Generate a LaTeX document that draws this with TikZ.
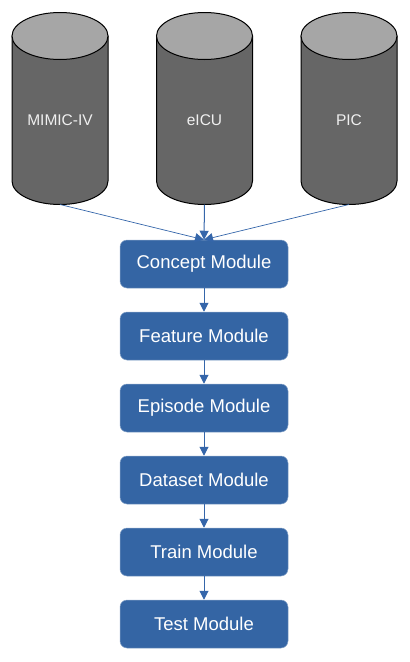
\documentclass[tikz,border=0pt]{standalone}
\usepackage{fontspec}
\setmainfont{Liberation Sans}
\usetikzlibrary{arrows.meta}
\definecolor{boxblue}{HTML}{3465A4}
\definecolor{arrowblue}{HTML}{3566AA}
\definecolor{cylbody}{HTML}{666666}
\definecolor{cyltop}{HTML}{A6A6A6}
\definecolor{cyltext}{HTML}{F0F0F0}
\tikzset{
  modbox/.style={draw=boxblue!60!white, line width=0.5pt, fill=boxblue, rounded corners=7pt,
    minimum width=168pt, minimum height=48pt, inner sep=0pt, text=white,
    font=\fontsize{18.5}{21}\selectfont},
  cyltext/.style={text=cyltext, font=\fontsize{15.5}{18}\selectfont, inner sep=0pt},
  cylline/.style={draw=black, line width=1pt},
  flow/.style={draw=arrowblue, line width=1pt, -{Triangle[width=9pt,length=9pt]}},
  thinflow/.style={draw=arrowblue, line width=0.7pt, -{Triangle[width=9pt,length=9pt]}},
}
\newcommand{\dbcyl}[3]{%
  \path[cylline, fill=cylbody] (#1-48,36) -- (#1-48,181) arc[start angle=180, end angle=360, x radius=48, y radius=-23.5] -- (#1+48,36) -- cycle;
  \path[cylline, fill=cyltop] (#1,36) ellipse[x radius=48, y radius=23.5];
  \node[cyltext] (#2) at (#1,120) {#3};
}
\begin{document}
\begin{tikzpicture}[x=1pt, y=-1pt]
\useasboundingbox (0,0) rectangle (410,662);
\dbcyl{60}{mimic}{MIMIC-IV}
\dbcyl{204.5}{eicu}{eICU}
\dbcyl{349}{pic}{PIC}
\coordinate (mimicb) at (60,204.5);
\coordinate (eicub) at (204.5,204.5);
\coordinate (picb) at (349,204.5);
\node[modbox] (concept) at (204,264) {Concept Module};
\node[modbox] (feature) at (204,336) {Feature Module};
\node[modbox] (episode) at (204,408) {Episode Module};
\node[modbox] (dataset) at (204,480) {Dataset Module};
\node[modbox] (train) at (204,552) {Train Module};
\node[modbox] (test) at (204,624) {Test Module};
\draw[thinflow] (mimicb) -- (concept.north);
\draw[flow] (eicub) -- (concept.north);
\draw[thinflow] (picb) -- (concept.north);
\draw[flow] (concept) -- (feature);
\draw[flow] (feature) -- (episode);
\draw[flow] (episode) -- (dataset);
\draw[flow] (dataset) -- (train);
\draw[flow] (train) -- (test);
\end{tikzpicture}
\end{document}
